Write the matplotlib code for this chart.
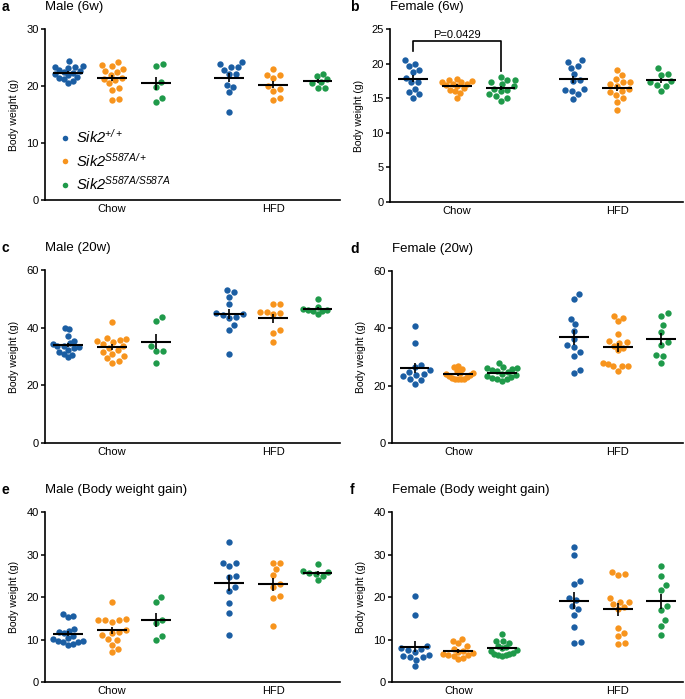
import matplotlib
matplotlib.use('Agg')
import matplotlib.pyplot as plt
from matplotlib.lines import Line2D
import numpy as np

plt.rcParams['font.family'] = ['Liberation Sans', 'DejaVu Sans']
plt.rcParams['mathtext.fontset'] = 'custom'
plt.rcParams['mathtext.rm'] = 'Liberation Sans:italic'
plt.rcParams['mathtext.it'] = 'Liberation Sans:italic'
plt.rcParams['mathtext.default'] = 'it'

colors = ['#1b5ea3', '#f7941d', '#1f9a4a']
genotypes = [r'$Sik2^{+/+}$', r'$Sik2^{S587A/+}$', r'$Sik2^{S587A/S587A}$']
diets = ['Chow', 'HFD']

# a: Male (6w)
m6_chow_wt = [24.4, 23.5, 23.4, 23.3, 23.2, 22.9, 22.6, 22.5, 22.3, 22.1, 21.9, 21.6, 21.4, 21.2, 20.9, 20.6]
m6_chow_het = [24.3, 23.8, 23.6, 23.0, 22.7, 22.5, 21.9, 21.5, 21.3, 21.0, 20.5, 19.7, 19.4, 17.7, 17.6]
m6_chow_hom = [23.6, 23.9, 20.8, 19.9, 17.9, 17.2]
m6_hfd_wt = [24.3, 23.9, 23.3, 23.3, 22.8, 22.1, 22.1, 20.2, 19.9, 18.9, 15.5]
m6_hfd_het = [23.1, 21.9, 21.9, 21.4, 20.0, 19.5, 19.2, 17.9, 17.5]
m6_hfd_hom = [22.2, 21.8, 21.2, 20.8, 20.5, 19.7, 19.7]

# b: Female (6w)
f6_chow_wt = [20.5, 19.9, 19.6, 19.1, 18.8, 17.9, 17.4, 17.3, 16.4, 15.9, 15.6, 15.1]
f6_chow_het = [17.8, 17.7, 17.5, 17.4, 17.3, 17.1, 17.0, 16.9, 16.8, 16.5, 16.2, 16.0, 15.8, 15.1]
f6_chow_hom = [18.1, 17.7, 17.6, 17.3, 17.0, 16.7, 16.4, 16.2, 16.0, 15.6, 15.3, 15.0, 14.6]
f6_hfd_wt = [20.5, 20.3, 19.7, 19.4, 18.5, 17.6, 17.5, 16.3, 16.2, 16.1, 15.6, 14.9]
f6_hfd_het = [19.1, 18.4, 17.8, 17.4, 17.3, 17.0, 16.8, 16.3, 16.0, 15.9, 15.4, 15.0, 14.4, 13.3]
f6_hfd_hom = [19.3, 18.5, 18.4, 17.5, 17.3, 16.9, 16.8, 16.1]

# c: Male (20w)
m20_chow_wt = [39.9, 39.4, 37.1, 35.3, 34.6, 34.2, 33.8, 33.5, 33.2, 32.8, 32.4, 31.6, 31.0, 30.6, 29.9]
m20_chow_het = [42.1, 36.4, 36.1, 35.7, 35.4, 35.1, 34.3, 33.6, 33.1, 32.3, 31.5, 30.9, 30.2, 29.4, 28.5, 27.9]
m20_chow_hom = [43.8, 42.4, 33.6, 31.8, 31.8, 27.8]
m20_hfd_wt = [53.2, 52.4, 50.6, 48.1, 45.1, 44.6, 44.3, 43.8, 43.5, 40.9, 39.1, 30.9]
m20_hfd_het = [48.2, 48.2, 45.6, 45.6, 45.1, 44.6, 39.2, 38.1, 35.2]
m20_hfd_hom = [50.1, 47.3, 46.6, 46.3, 46.1, 45.9, 45.8, 44.6]

# d: Female (20w)
f20_chow_wt = [40.7, 34.8, 27.3, 26.5, 25.4, 24.8, 24.1, 23.6, 23.3, 22.3, 21.9, 20.6]
f20_chow_het = [27.0, 26.5, 25.7, 25.0, 24.5, 24.3, 24.0, 23.6, 23.3, 23.0, 22.8, 22.5, 22.4, 22.3, 22.3]
f20_chow_hom = [27.9, 26.5, 26.3, 26.2, 25.8, 25.5, 25.2, 24.6, 24.2, 23.8, 23.3, 22.9, 22.6, 22.5, 22.2, 21.6]
f20_hfd_wt = [52.1, 50.3, 43.2, 41.4, 39.0, 36.3, 34.2, 33.5, 31.8, 30.5, 25.6, 24.4]
f20_hfd_het = [44.4, 43.6, 42.7, 38.0, 35.5, 35.1, 34.9, 34.0, 33.3, 32.4, 27.8, 27.7, 26.8, 26.7, 26.7, 25.2]
f20_hfd_hom = [45.2, 44.3, 41.2, 38.8, 35.2, 34.3, 30.8, 30.2, 27.8]

# e: Male (Body weight gain)
mg_chow_wt = [16.1, 15.6, 15.3, 12.5, 12.1, 11.9, 11.6, 10.9, 10.5, 10.2, 9.8, 9.6, 9.5, 9.4, 8.9, 8.8]
mg_chow_het = [18.8, 14.8, 14.7, 14.7, 14.6, 14.2, 12.2, 11.9, 11.6, 11.1, 10.2, 9.9, 8.8, 7.9, 7.0]
mg_chow_hom = [20.0, 18.8, 14.6, 13.8, 10.9, 9.9]
mg_hfd_wt = [32.9, 28.0, 28.0, 27.4, 24.9, 24.7, 22.3, 21.4, 18.7, 16.3, 11.0]
mg_hfd_het = [28.1, 28.1, 26.6, 25.1, 23.0, 22.4, 20.2, 19.9, 13.3]
mg_hfd_hom = [27.8, 26.1, 25.9, 25.6, 25.5, 24.9, 23.9]

# f: Female (Body weight gain)
fg_chow_wt = [20.2, 15.9, 8.4, 8.1, 7.7, 7.5, 7.1, 6.3, 6.1, 6.0, 5.9, 5.3, 3.7]
fg_chow_het = [10.1, 9.6, 9.1, 8.6, 7.9, 7.4, 7.1, 6.8, 6.6, 6.4, 6.3, 6.2, 5.6, 5.4]
fg_chow_hom = [11.4, 9.8, 9.6, 9.2, 8.6, 8.3, 8.0, 7.5, 7.3, 6.9, 6.7, 6.6, 6.5, 6.5, 6.2]
fg_hfd_wt = [31.8, 29.8, 23.8, 23.1, 19.7, 19.3, 18.0, 17.1, 15.7, 13.0, 9.5, 9.2]
fg_hfd_het = [26.0, 25.4, 25.2, 19.8, 18.9, 18.8, 18.3, 17.6, 17.1, 12.7, 11.5, 10.8, 9.1, 9.0]
fg_hfd_hom = [27.3, 24.9, 22.8, 21.6, 18.0, 17.0, 14.7, 13.3, 11.2]

W, H, DPI = 6.85, 6.99, 100
positions = [0, 1, 2, 3.66, 4.66, 5.66]
xlim = (-0.52, 6.16)


def swarm(vals, sx, sy, d=7.0, maxw=15.0):
    # simple beeswarm in pixel space, squeezed to +-maxw px; returns offsets in data units
    ys = np.asarray(vals, float) * sy
    xs = np.zeros(len(ys))
    placed = []
    for i in np.argsort(ys):
        y = ys[i]
        near = [(px, py) for px, py in placed if abs(py - y) < d]
        cands = [0.0]
        for px, py in near:
            dx = np.sqrt(d * d - (py - y) ** 2)
            cands += [px + dx, px - dx]
        cands.sort(key=abs)
        for c in cands:
            if all((c - px) ** 2 + (y - py) ** 2 >= d * d - 1e-6 for px, py in near):
                xs[i] = c
                break
        placed.append((xs[i], y))
    w = np.abs(xs).max()
    if w > maxw:
        xs = xs * maxw / w
    return xs / sx


fig = plt.figure(figsize=(W, H), dpi=DPI)


def panel(rect, groups, ymax, ystep, letter, title, letter_x):
    ax = fig.add_axes(rect)
    sx = rect[2] * W * DPI / (xlim[1] - xlim[0])
    sy = rect[3] * H * DPI / ymax
    for k, (vals, xc) in enumerate(zip(groups, positions)):
        vals = np.asarray(vals)
        off = swarm(vals, sx, sy)
        ax.scatter(xc + off, vals, s=21, color=colors[k % 3], linewidths=0, zorder=2)
        m = vals.mean()
        sem = vals.std(ddof=1) / np.sqrt(len(vals))
        ax.hlines(m, xc - 0.34, xc + 0.34, color='k', lw=1.5, zorder=3)
        ax.vlines(xc, m - sem, m + sem, color='k', lw=1.2, zorder=3)
    ax.set_xlim(*xlim)
    ax.set_ylim(0, ymax)
    ax.set_yticks(np.arange(0, ymax + 0.1, ystep))
    ax.set_xticks([1, 4.66])
    ax.set_xticklabels(diets, fontsize=8)
    ax.tick_params(axis='x', length=0, pad=3)
    ax.tick_params(axis='y', labelsize=8, length=3, width=1.1, pad=1.5)
    for s in ['top', 'right']:
        ax.spines[s].set_visible(False)
    for s in ['left', 'bottom']:
        ax.spines[s].set_linewidth(1.2)
    ax.spines['left'].set_zorder(4)
    ax.set_ylabel('Body weight (g)', fontsize=7.5, labelpad=5)
    ax.annotate(title, xy=(0, 1), xycoords='axes fraction', xytext=(0, 16),
                textcoords='offset points', ha='left', va='center', fontsize=9.5)
    fig.text(letter_x, rect[1] + rect[3] + 16 / 72 / H, letter, fontsize=10,
             fontweight='bold', ha='left', va='center')
    return ax


ax_a = panel([0.0657, 0.7139, 0.430, 0.2442],
             [m6_chow_wt, m6_chow_het, m6_chow_hom, m6_hfd_wt, m6_hfd_het, m6_hfd_hom],
             30, 10, 'a', 'Male (6w)', 0.002)
ax_b = panel([0.5693, 0.7110, 0.428, 0.2475],
             [f6_chow_wt, f6_chow_het, f6_chow_hom, f6_hfd_wt, f6_hfd_het, f6_hfd_hom],
             25, 5, 'b', 'Female (6w)', 0.511)
ax_c = panel([0.0657, 0.3662, 0.430, 0.2475],
             [m20_chow_wt, m20_chow_het, m20_chow_hom, m20_hfd_wt, m20_hfd_het, m20_hfd_hom],
             60, 20, 'c', 'Male (20w)', 0.002)
ax_d = panel([0.5722, 0.3662, 0.425, 0.2461],
             [f20_chow_wt, f20_chow_het, f20_chow_hom, f20_hfd_wt, f20_hfd_het, f20_hfd_hom],
             60, 20, 'd', 'Female (20w)', 0.511)
ax_e = panel([0.0657, 0.0240, 0.430, 0.2436],
             [mg_chow_wt, mg_chow_het, mg_chow_hom, mg_hfd_wt, mg_hfd_het, mg_hfd_hom],
             40, 10, 'e', 'Male (Body weight gain)', 0.002)
ax_f = panel([0.5722, 0.0240, 0.425, 0.2436],
             [fg_chow_wt, fg_chow_het, fg_chow_hom, fg_hfd_wt, fg_hfd_het, fg_hfd_hom],
             40, 10, 'f', 'Female (Body weight gain)', 0.511)

# legend in panel a
handles = [Line2D([], [], ls='', marker='o', ms=4.0, mfc=c, mec='none') for c in colors]
ax_a.legend(handles, genotypes, loc='upper left', bbox_to_anchor=(0.025, 0.455),
            frameon=False, fontsize=10.5, handletextpad=0.25, labelspacing=0.38,
            handlelength=1.0, borderaxespad=0)

# significance bracket in panel b
ax_b.plot([0, 0, 2, 2], [21.8, 23.3, 23.3, 19.0], color='k', lw=1.2, zorder=3)
ax_b.text(1, 24.2, 'P=0.0429', ha='center', va='center', fontsize=8)

fig.savefig('out.png', dpi=DPI)
